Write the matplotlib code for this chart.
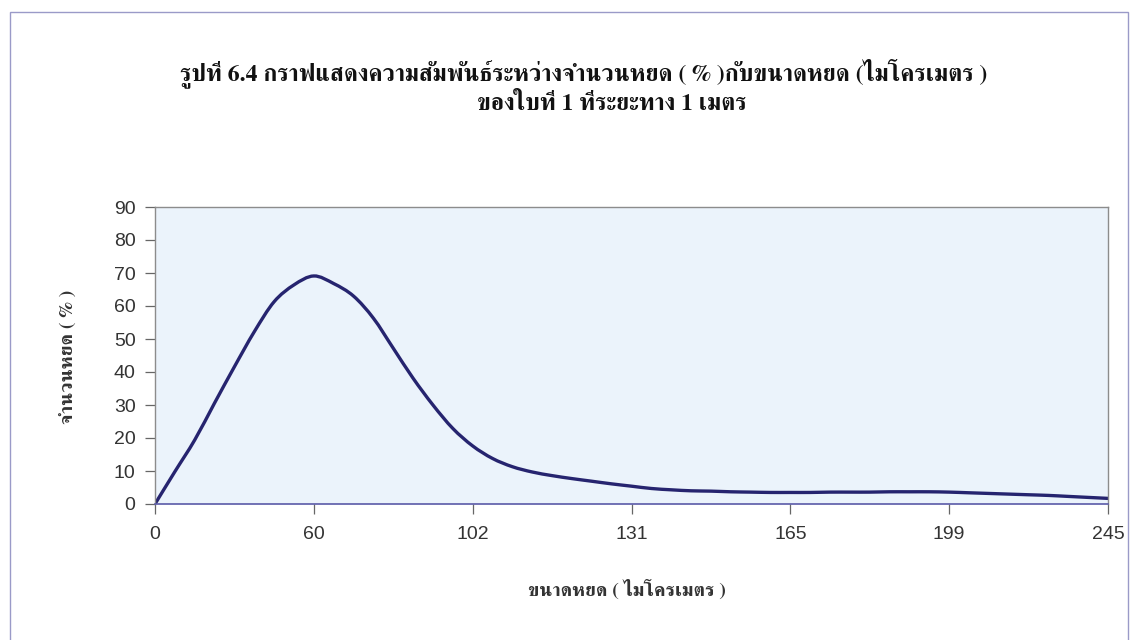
import numpy as np
import matplotlib
matplotlib.use("Agg")
import matplotlib.pyplot as plt
from matplotlib.patches import Rectangle, PathPatch
from matplotlib.path import Path

# Droplet count (%) at each size class, one value per category
drop_percent = [0.0, 9.8, 19.4, 30.6, 41.6, 52.2, 61.3, 66.4, 69.1,
                66.8, 63.0, 56.3, 47.2, 38.1, 30.0, 22.9, 17.6,
                13.8, 11.3, 9.7, 8.6, 7.7, 6.9, 6.1, 5.4,
                4.7, 4.3, 4.0, 3.9, 3.7, 3.6, 3.5, 3.5,
                3.5, 3.6, 3.6, 3.6, 3.7, 3.7, 3.7, 3.6,
                3.4, 3.2, 3.0, 2.8, 2.6, 2.3, 2.0, 1.7]

# droplet sizes (micrometres) shown on the category axis, every 8th class
size_labels = ["0", "60", "102", "131", "165", "199", "245"]
label_step = 8

title_1 = "รูปที่ 6.4 กราฟแสดงความสัมพันธ์ระหว่างจำนวนหยด ( % )กับขนาดหยด (ไมโครเมตร )"
title_2 = "ของใบที่ 1 ที่ระยะทาง 1 เมตร"
x_title = "ขนาดหยด ( ไมโครเมตร )"
y_title = "จำนวนหยด ( % )"

thai_font = ["FreeSerif", "DejaVu Serif"]
plt.rcParams["font.family"] = ["Liberation Sans", "DejaVu Sans"]


def smooth_path(xs, ys):
    # Catmull-Rom style cubic Bezier through every point (like a smoothed line)
    pts = np.column_stack([xs, ys]).astype(float)
    ext = np.vstack([pts[0], pts, pts[-1]])
    verts = [pts[0]]
    codes = [Path.MOVETO]
    for i in range(len(pts) - 1):
        p0, p1, p2, p3 = ext[i], ext[i + 1], ext[i + 2], ext[i + 3]
        verts += [p1 + (p2 - p0) / 6, p2 - (p3 - p1) / 6, p2]
        codes += [Path.CURVE4] * 3
    return Path(verts, codes)


fig = plt.figure(figsize=(11.37, 6.4), dpi=100)
fig.patch.set_facecolor("white")

# thin frame round the whole chart
fig.patches.append(Rectangle((10 / 1137, -0.05), 1118 / 1137, 1.05 - 12 / 640,
                             transform=fig.transFigure, fill=False,
                             edgecolor="#9a9ac8", linewidth=1.0))

ax = fig.add_axes([155 / 1137, 1 - 504 / 640, 953 / 1137, 297 / 640])
ax.set_facecolor("#ebf3fb")

x = np.arange(len(drop_percent))
curve = PathPatch(smooth_path(x, drop_percent), facecolor="none",
                  edgecolor="#26246f", linewidth=2.4, capstyle="round",
                  joinstyle="round")
ax.add_patch(curve)

ax.set_xlim(0, len(drop_percent) - 1)
ax.set_ylim(0, 90)
ax.set_yticks(range(0, 91, 10))
ax.set_xticks(x[::label_step])
ax.set_xticklabels(size_labels)

for side in ["top", "right", "left"]:
    ax.spines[side].set_color("#8c8c8c")
    ax.spines[side].set_linewidth(1.0)
ax.spines["bottom"].set_color("#5a5aa8")
ax.spines["bottom"].set_linewidth(1.2)

ax.tick_params(axis="both", direction="out", length=7, width=0.9,
               color="#666666", labelsize=14, labelcolor="#333333")
ax.tick_params(axis="y", pad=7)
ax.tick_params(axis="x", pad=9)

fig.text(584 / 1137, 1 - 73 / 640, title_1, ha="center", va="center",
         fontsize=17, fontweight="bold", family=thai_font, color="#111111")
fig.text(612 / 1137, 1 - 104 / 640, title_2, ha="center", va="center",
         fontsize=17, fontweight="bold", family=thai_font, color="#111111")
fig.text(627 / 1137, 1 - 590 / 640, x_title, ha="center", va="center",
         fontsize=14, fontweight="bold", family=thai_font, color="#333333")
fig.text(68 / 1137, 1 - 357 / 640, y_title, ha="center", va="center",
         rotation=90, fontsize=14, fontweight="bold", family=thai_font,
         color="#333333")

fig.savefig("out.png", dpi=100)
